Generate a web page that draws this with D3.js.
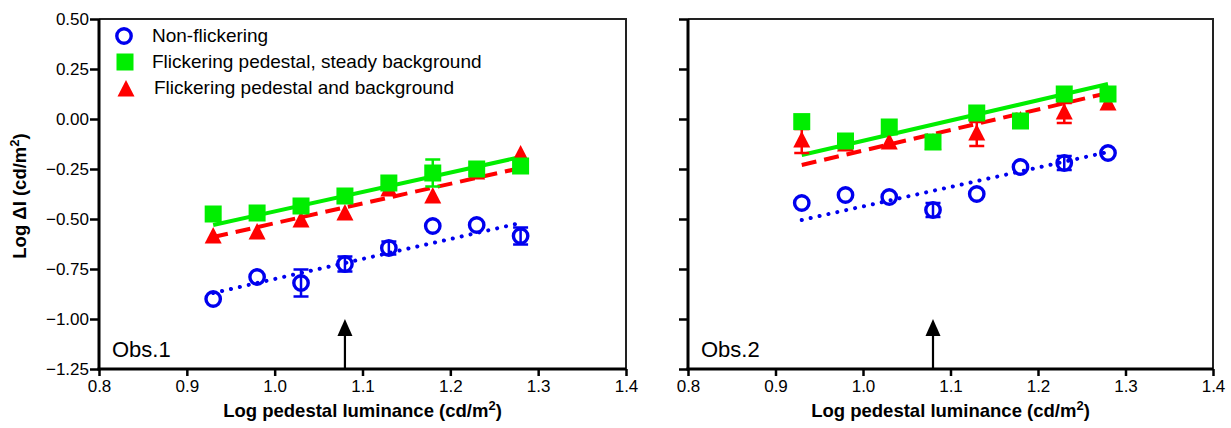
<!DOCTYPE html>
<html><head><meta charset="utf-8">
<script src="https://cdn.jsdelivr.net/npm/d3@7/dist/d3.min.js"></script>
<style>body{margin:0;background:#fff}svg{display:block}text{font-family:"Liberation Sans",Arial,sans-serif}</style>
</head><body><svg id="c" width="1231" height="428"></svg>
<script>
const xVals = [0.93, 0.98, 1.03, 1.08, 1.13, 1.18, 1.23, 1.28];
const xTicks = [0.8, 0.9, 1.0, 1.1, 1.2, 1.3, 1.4];
const yTicks = [0.5, 0.25, 0, -0.25, -0.5, -0.75, -1.0, -1.25];
const seriesNames = ["Non-flickering", "Flickering pedestal, steady background", "Flickering pedestal and background"];
// Obs.1
const obs1Non = [-0.90, -0.79, -0.82, -0.725, -0.645, -0.535, -0.53, -0.585];
const obs1NonErr = [0, 0, 0.068, 0.038, 0.033, 0, 0, 0.043];
const obs1FlkPed = [-0.475, -0.47, -0.435, -0.385, -0.32, -0.27, -0.25, -0.235];
const obs1FlkPedErr = [0, 0, 0, 0, 0, 0.067, 0, 0];
const obs1FlkBoth = [-0.59, -0.57, -0.51, -0.475, -0.355, -0.39, -0.27, -0.18];
const obs1FlkBothErr = [0, 0, 0, 0, 0, 0, 0, 0];
const obs1FitNon = [-0.87, -0.52];
const obs1FitPed = [-0.53, -0.19];
const obs1FitBoth = [-0.59, -0.245];
// Obs.2
const obs2Non = [-0.42, -0.38, -0.39, -0.455, -0.375, -0.24, -0.22, -0.17];
const obs2NonErr = [0, 0, 0, 0.035, 0, 0, 0.035, 0];
const obs2FlkPed = [-0.013, -0.11, -0.04, -0.115, 0.03, -0.01, 0.125, 0.125];
const obs2FlkPedErr = [0, 0, 0, 0, 0, 0, 0, 0];
const obs2FlkBoth = [-0.11, -0.13, -0.12, -0.12, -0.075, -0.01, 0.03, 0.075];
const obs2FlkBothErr = [0.06, 0, 0, 0, 0.06, 0, 0.05, 0];
const obs2FitNon = [-0.505, -0.165];
const obs2FitPed = [-0.18, 0.175];
const obs2FitBoth = [-0.23, 0.13];
const arrowX = 1.08, arrowTop = -1.0;

const svg = d3.select("#c");
const colors = ["#0000ee", "#00ee00", "#ff0000"];

function panel(x0, x1, label, showLabels, data) {
  const x = d3.scaleLinear().domain([0.8, 1.4]).range([x0, x1]);
  const y = d3.scaleLinear().domain([-1.25, 0.5]).range([369, 19]);
  const g = svg.append("g");
  g.append("path").attr("d", `M${x0},${y(0.5)}H${x1}V${y(-1.25)}`).attr("fill","none").attr("stroke","#222").attr("stroke-width",2);
  const ya = d3.axisLeft(y).tickValues(yTicks).tickSize(9).tickPadding(1).tickFormat(showLabels ? d3.format(".2f") : "");
  const ay = g.append("g").attr("transform", `translate(${x0},0)`).call(ya);
  const xa = d3.axisBottom(x).tickValues(xTicks).tickSize(7).tickFormat(d3.format(".1f"));
  const ax = g.append("g").attr("transform", `translate(0,${y(-1.25)})`).call(xa);
  [ay, ax].forEach(a => {
    a.select(".domain").attr("stroke","#000").attr("stroke-width",3);
    a.selectAll(".tick line").attr("stroke","#000").attr("stroke-width",2.5);
    a.selectAll("text").attr("font-size",17).attr("fill","#000");
  });
  ay.select(".domain").attr("d", `M0,${y(0.5)}V${y(-1.25)+1.5}`);
  ax.select(".domain").attr("d", `M${x0-1.5},0H${x1}`);
  ax.selectAll("text").attr("y",11);

  const fits = [data.fitNon, data.fitPed, data.fitBoth];
  const dash = ["0.1 9", null, "15 8"];
  const caps = ["round", "butt", "butt"];
  fits.forEach((f, i) => {
    g.append("line").attr("x1", x(xVals[0])).attr("x2", x(xVals[7]))
      .attr("y1", y(f[0])).attr("y2", y(f[1]))
      .attr("stroke", colors[i]).attr("stroke-width", 4)
      .attr("stroke-dasharray", dash[i]).attr("stroke-linecap", caps[i]);
  });

  const draw = (vals, errs, i) => {
    const eg = g.append("g");
    xVals.forEach((xv, k) => {
      if (errs[k] > 0) {
        const cx = x(xv), yt = y(vals[k] + errs[k]), yb = y(vals[k] - errs[k]);
        eg.append("path").attr("d", `M${cx},${yt}V${yb}M${cx-7.5},${yt}H${cx+7.5}M${cx-7.5},${yb}H${cx+7.5}`)
          .attr("stroke", colors[i]).attr("stroke-width", 2.5).attr("fill","none");
      }
    });
    const mg = g.append("g");
    xVals.forEach((xv, k) => {
      const cx = x(xv), cy = y(vals[k]);
      if (i === 0) mg.append("circle").attr("cx",cx).attr("cy",cy).attr("r",7.2).attr("fill","none").attr("stroke",colors[0]).attr("stroke-width",3.4);
      else if (i === 1) mg.append("rect").attr("x",cx-8.5).attr("y",cy-8.5).attr("width",17).attr("height",17).attr("fill",colors[1]);
      else mg.append("path").attr("d",`M${cx},${cy-10}L${cx+8.5},${cy+6.5}L${cx-8.5},${cy+6.5}Z`).attr("fill",colors[2]);
    });
  };
  draw(data.both, data.bothErr, 2);
  draw(data.ped, data.pedErr, 1);
  draw(data.non, data.nonErr, 0);

  const axp = x(arrowX);
  g.append("line").attr("x1",axp).attr("x2",axp).attr("y1",y(-1.25)).attr("y2",y(arrowTop)+16).attr("stroke","#000").attr("stroke-width",2.2);
  g.append("path").attr("d",`M${axp},${y(arrowTop)}L${axp+7.5},${y(arrowTop)+17}L${axp-7.5},${y(arrowTop)+17}Z`).attr("fill","#000");

  g.append("text").attr("x", x0+13).attr("y", 357).attr("font-size",22).attr("fill","#000").text(label);

  const xt = g.append("text").attr("x", (x0+x1)/2).attr("y", 417).attr("text-anchor","middle")
    .attr("font-size",18.5).attr("font-weight","bold");
  xt.append("tspan").text("Log pedestal luminance (cd/m");
  xt.append("tspan").attr("dy",-7).attr("font-size",13).text("2");
  xt.append("tspan").attr("dy",7).text(")");
  return {x, y};
}

panel(99, 626, "Obs.1", true, {non: obs1Non, nonErr: obs1NonErr, ped: obs1FlkPed, pedErr: obs1FlkPedErr, both: obs1FlkBoth, bothErr: obs1FlkBothErr, fitNon: obs1FitNon, fitPed: obs1FitPed, fitBoth: obs1FitBoth});
panel(688, 1213, "Obs.2", false, {non: obs2Non, nonErr: obs2NonErr, ped: obs2FlkPed, pedErr: obs2FlkPedErr, both: obs2FlkBoth, bothErr: obs2FlkBothErr, fitNon: obs2FitNon, fitPed: obs2FitPed, fitBoth: obs2FitBoth});

const yt = svg.append("text").attr("transform","translate(26,196) rotate(-90)").attr("text-anchor","middle")
  .attr("font-size",18.5).attr("font-weight","bold");
yt.append("tspan").text("Log \u0394I (cd/m");
yt.append("tspan").attr("dy",-7).attr("font-size",13).text("2");
yt.append("tspan").attr("dy",7).text(")");

const lg = svg.append("g");
lg.append("circle").attr("cx",124).attr("cy",36).attr("r",7.2).attr("fill","none").attr("stroke",colors[0]).attr("stroke-width",3.4);
lg.append("rect").attr("x",116.5).attr("y",53.5).attr("width",17).attr("height",17).attr("fill",colors[1]);
lg.append("path").attr("d",`M126,80L134.5,96.5L117.5,96.5Z`).attr("fill",colors[2]);
const lx = [152, 152, 154];
const lb = [42, 68, 94];
seriesNames.forEach((n, i) => {
  lg.append("text").attr("x", lx[i]).attr("y", lb[i]).attr("font-size",19).attr("fill","#000").text(n);
});
</script></body></html>
